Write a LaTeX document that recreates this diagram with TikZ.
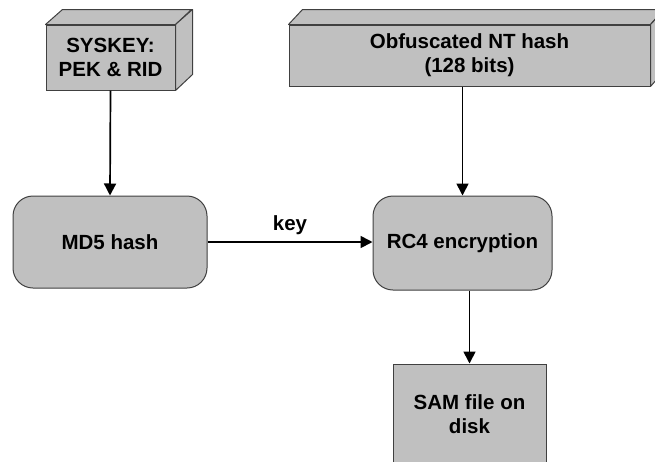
\documentclass[tikz,border=0pt]{standalone}
\usepackage{fontspec}
\setmainfont{Liberation Sans}
\usetikzlibrary{arrows.meta,calc}
\begin{document}
\begin{tikzpicture}[x=1pt,y=-1pt,
  box/.style={draw=black!75, line width=1pt, fill=boxgray, inner sep=0pt, align=center,
    font=\fontsize{20.5}{24}\selectfont\bfseries},
  rbox/.style={box, rounded corners=20pt},
  side/.style={draw=black!75, line width=1pt, fill=boxgray, line join=round},
  conn/.style={line width=1.7pt, -{Triangle[length=12pt,width=12pt]}}]
\definecolor{boxgray}{HTML}{C0C0C0}
\useasboundingbox (0,0) rectangle (655,461);
% SYSKEY 3D box
\node[box, minimum width=129pt, minimum height=65pt] (sys) at (110.5,57.5) {SYSKEY:\\PEK \& RID};
\draw[side] (sys.north west) -- ++(17,-15) -- ++(129,0) -- (sys.north east) -- cycle;
\draw[side] (sys.north east) -- ++(17,-15) -- ++(0,65) -- (sys.south east) -- cycle;
% Obfuscated 3D box
\node[box, minimum width=361pt, minimum height=61pt] (obf) at (469.5,55.5) {Obfuscated NT hash\\(128 bits)};
\draw[side] (obf.north west) -- ++(14,-15) -- ++(361,0) -- (obf.north east) -- cycle;
\draw[side] (obf.north east) -- ++(14,-15) -- ++(0,61) -- (obf.south east) -- cycle;
% Rounded boxes
\node[rbox, minimum width=194pt, minimum height=92pt] (md5) at (110,242) {MD5 hash};
\node[rbox, minimum width=179pt, minimum height=94pt] (rc4) at (462.5,243) {RC4 encryption};
% SAM
\node[box, minimum width=153pt, minimum height=100pt] (sam) at (469.5,414) {SAM file on\\disk};
% connectors
\draw[conn] (sys.south) -- (md5.north);
\draw[conn] (obf.south -| rc4.north) -- (rc4.north);
\draw[conn] (md5.east) -- node[above=6pt, font=\fontsize{20.5}{24}\selectfont\bfseries, inner sep=0pt] (key) {key} (md5.east -| rc4.west);
\draw[conn] (rc4.south -| sam.north) -- (sam.north);
\end{tikzpicture}
\end{document}
